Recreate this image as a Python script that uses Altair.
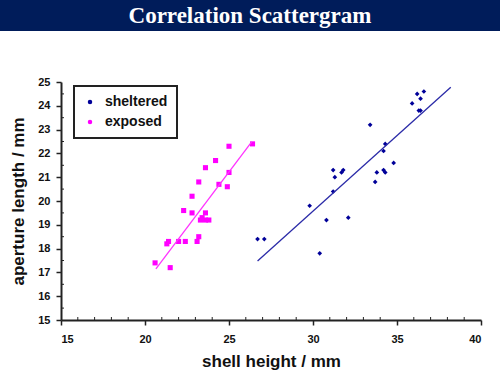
import altair as alt
import pandas as pd

# ---- data ----
sheltered_x = [26.7, 27.1, 29.8, 30.4, 30.8, 31.2, 31.2, 31.3, 31.7, 31.8, 32.1, 33.4, 33.7,
               33.8, 34.2, 34.3, 34.2, 34.3, 34.8, 35.9, 36.2, 36.4, 36.6, 36.3, 36.4]
sheltered_y = [18.4, 18.4, 19.8, 17.8, 19.2, 20.4, 21.3, 21.0, 21.2, 21.3, 19.3, 23.2, 20.8,
               21.2, 21.3, 21.2, 22.1, 22.4, 21.6, 24.1, 24.5, 24.3, 24.6, 23.8, 23.8]

exposed_x = [25.0, 26.4, 24.2, 23.6, 25.0, 23.2, 24.4, 24.9, 22.8, 22.3, 22.8, 23.6,
             23.4, 23.3, 23.6, 23.8, 23.2, 23.1, 22.4, 22.0, 21.4, 21.3, 20.6, 21.5]
exposed_y = [22.3, 22.4, 21.7, 21.4, 21.2, 20.8, 20.7, 20.6, 20.2, 19.6, 19.5, 19.5,
             19.3, 19.2, 19.2, 19.2, 18.5, 18.3, 18.3, 18.3, 18.3, 18.2, 17.4, 17.2]

sheltered_fit_x = [26.7, 38.2]
sheltered_fit_y = [17.48, 24.78]
exposed_fit_x = [20.65, 26.35]
exposed_fit_y = [17.15, 22.48]

x_major = [15, 20, 25, 30, 35, 40]
y_major = [15, 16, 17, 18, 19, 20, 21, 22, 23, 24, 25]
x_minor = [v for v in range(16, 40) if v % 5 != 0]
y_minor = [15.5 + i for i in range(10)]

series = ["sheltered", "exposed"]
colors = ["#000099", "#FF00FF"]
line_colors = ["#2B2BA8", "#FF33FF"]
shapes = ["diamond", "square"]

pts = pd.DataFrame({
    "x": sheltered_x + exposed_x,
    "y": sheltered_y + exposed_y,
    "group": ["sheltered"] * len(sheltered_x) + ["exposed"] * len(exposed_x),
})
fits = pd.DataFrame({
    "x": sheltered_fit_x + exposed_fit_x,
    "y": sheltered_fit_y + exposed_fit_y,
    "group": ["sheltered"] * 2 + ["exposed"] * 2,
})

W, H = 420, 238
xscale = alt.Scale(domain=[15, 40], nice=False, zero=False)
yscale = alt.Scale(domain=[15, 25], nice=False, zero=False)

xaxis = alt.Axis(values=x_major, title="shell height / mm", grid=False, tickSize=5,
                 labelFont="Liberation Sans", labelFontWeight="bold", labelFontSize=11,
                 labelColor="#111", labelPadding=8, labelOverlap=False,
                 titleFont="Liberation Sans",
                 titleFontSize=17, titleFontWeight="bold", titleColor="#111",
                 titlePadding=9, domainColor="#222", domainWidth=2, tickColor="#222",
                 tickWidth=1.5, format="d")
yaxis = alt.Axis(values=y_major, title="aperture length / mm", grid=False, tickSize=5,
                 labelFont="Liberation Sans", labelFontWeight="bold", labelFontSize=11,
                 labelColor="#111", labelPadding=6, labelOverlap=False,
                 labelFlush=False, titleFont="Liberation Sans",
                 titleFontSize=17, titleFontWeight="bold", titleColor="#111",
                 titlePadding=10, domainColor="#222", domainWidth=2, tickColor="#222",
                 tickWidth=1.5, format="d")

legend = alt.Legend(title=None, orient="none", legendX=13, legendY=4,
                    strokeColor="#222", padding=9, fillColor="white",
                    labelFont="Liberation Sans", labelFontWeight="bold", labelFontSize=14,
                    labelColor="#111", symbolSize=20, rowPadding=6, labelOffset=8,
                    symbolStrokeWidth=0)

points = alt.Chart(pts).mark_point(filled=True, opacity=1).encode(
    x=alt.X("x:Q", scale=xscale, axis=xaxis),
    y=alt.Y("y:Q", scale=yscale, axis=yaxis),
    color=alt.Color("group:N", scale=alt.Scale(domain=series, range=colors), legend=legend),
    shape=alt.Shape("group:N", scale=alt.Scale(domain=series, range=shapes), legend=legend),
    size=alt.Size("group:N", scale=alt.Scale(domain=series, range=[22, 26]), legend=None),
)

lines = alt.Chart(fits).mark_line(strokeWidth=1.3).encode(
    x=alt.X("x:Q", scale=xscale, axis=xaxis),
    y=alt.Y("y:Q", scale=yscale, axis=yaxis),
    color=alt.Color("group:N", scale=alt.Scale(domain=series, range=line_colors), legend=None),
    detail="group:N",
)

xminor = alt.Chart(pd.DataFrame({"v": x_minor})).mark_rule(color="#222", strokeWidth=1).encode(
    x=alt.X("v:Q", scale=xscale, axis=xaxis), y=alt.value(H), y2=alt.value(H - 3))
yminor = alt.Chart(pd.DataFrame({"v": y_minor})).mark_rule(color="#222", strokeWidth=1).encode(
    y=alt.Y("v:Q", scale=yscale, axis=yaxis), x=alt.value(0), x2=alt.value(3))

band = alt.Chart(alt.Data(values=[{}])).mark_rect(color="#001C5A", clip=False).encode(
    x=alt.value(-61), x2=alt.value(439), y=alt.value(-82), y2=alt.value(-51))
title = alt.Chart(alt.Data(values=[{}])).mark_text(
    text="Correlation Scattergram", font="Liberation Serif", fontWeight="bold",
    fontSize=23, color="white", align="center", baseline="middle").encode(
    x=alt.value(189), y=alt.value(-66))

chart = alt.layer(band, title, points, lines, xminor, yminor).resolve_scale(
    color="independent"
).properties(
    width=W, height=H,
    autosize=alt.AutoSizeParams(type="none"),
    padding={"left": 61, "top": 82, "right": 19, "bottom": 55},
).configure_view(stroke=None).configure_legend(strokeWidth=2)

chart.save("out.html", embed_options={"renderer": "svg", "actions": False})
